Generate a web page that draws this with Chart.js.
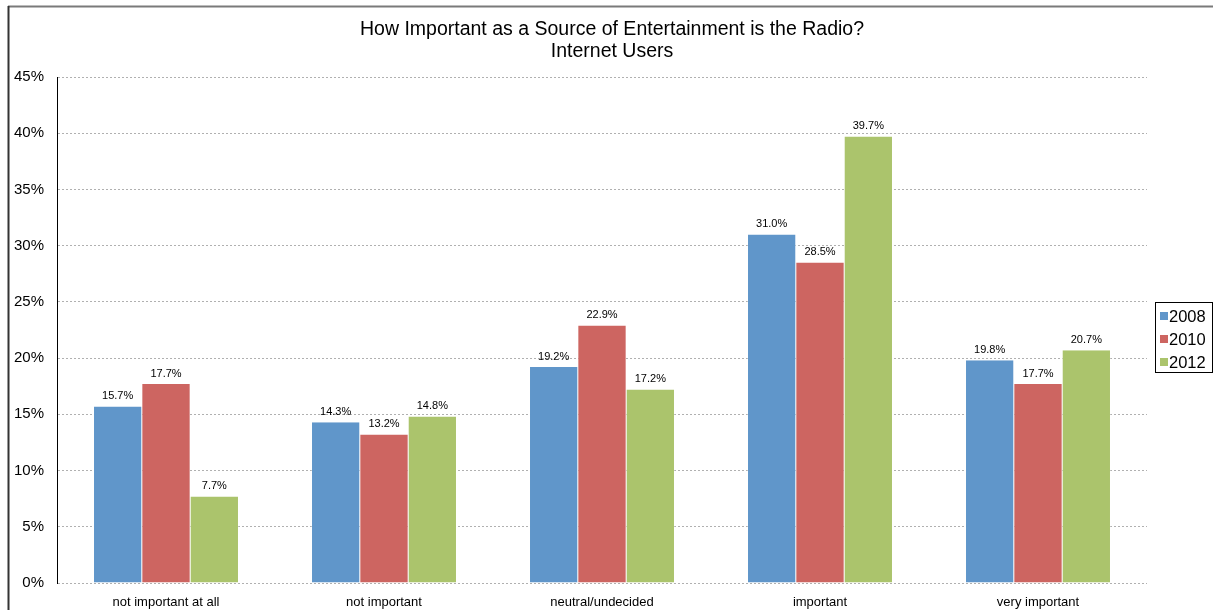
<!DOCTYPE html>
<html>
<head>
<meta charset="utf-8">
<script src="https://cdn.jsdelivr.net/npm/chart.js@4.4.1/dist/chart.umd.min.js"></script>
<style>
  html, body { margin: 0; padding: 0; background: #fff; }
  #wrap { width: 1213px; height: 610px; }
</style>
</head>
<body>
<div id="wrap"><canvas id="myChart" width="1213" height="610"></canvas></div>
<script>
// categorias y valores por año (en %)
const categorias = ["not important at all", "not important", "neutral/undecided", "important", "very important"];
const anios = ["2008", "2010", "2012"];
const datos2008 = [15.7, 14.3, 19.2, 31.0, 19.8];
const datos2010 = [17.7, 13.2, 22.9, 28.5, 17.7];
const datos2012 = [7.7, 14.8, 17.2, 39.7, 20.7];
const titulo = ["How Important as a Source of Entertainment is the Radio?", "Internet Users"];
const colores = ["#6096CA", "#CD6561", "#ABC46C"];
const fuente = "'Liberation Sans', Arial, sans-serif";

// marco de la figura (solo arriba y a la izquierda) + titulo centrado en toda la figura
const marco = {
    id: "marco",
    beforeDraw(chart){
        const c = chart.ctx;
        c.save();
        c.fillStyle = "#fff";
        c.fillRect(0, 0, chart.width, chart.height);
        c.strokeStyle = "#7a7a7a";
        c.lineWidth = 2;
        c.beginPath();
        c.moveTo(8, 6.5);
        c.lineTo(chart.width, 6.5);
        c.stroke();
        c.strokeStyle = "#333";
        c.beginPath();
        c.moveTo(8.5, 6);
        c.lineTo(8.5, chart.height);
        c.stroke();

        c.fillStyle = "#000";
        c.font = "19.5px " + fuente;
        c.textAlign = "center";
        c.textBaseline = "middle";
        titulo.forEach((t, i) => c.fillText(t, 612, 30 + i * 22));
        c.restore();
    }
};

// etiquetas de valor sobre cada barra
const etiquetas = {
    id: "etiquetas",
    afterDatasetsDraw(chart){
        const c = chart.ctx;
        c.save();
        c.font = "11px " + fuente;
        c.fillStyle = "#000";
        c.textAlign = "center";
        c.textBaseline = "bottom";
        chart.data.datasets.forEach((ds, i) => {
            chart.getDatasetMeta(i).data.forEach((bar, j) => {
                c.fillText(ds.data[j].toFixed(1) + "%", bar.x, bar.y - 5);
            });
        });
        c.restore();
    }
};

// leyenda con recuadro a la derecha
const leyenda = {
    id: "leyenda",
    afterDraw(chart){
        const c = chart.ctx;
        const x = 1155, y = 302, w = 57, h = 70;
        c.save();
        c.strokeStyle = "#000";
        c.lineWidth = 1;
        c.strokeRect(x + 0.5, y + 0.5, w, h);
        c.font = "16.5px " + fuente;
        c.textBaseline = "middle";
        chart.data.datasets.forEach((ds, i) => {
            const yy = y + 14 + i * 23;
            c.fillStyle = ds.backgroundColor;
            c.fillRect(x + 5, yy - 4, 8, 8);
            c.fillStyle = "#000";
            c.fillText(ds.label, x + 14, yy + 1);
        });
        c.restore();
    }
};

const ctx = document.getElementById("myChart");
new Chart(ctx, {
    type: "bar",
    data: {
        labels: categorias,
        datasets: [
            { label: anios[0], data: datos2008, backgroundColor: colores[0] },
            { label: anios[1], data: datos2010, backgroundColor: colores[1] },
            { label: anios[2], data: datos2012, backgroundColor: colores[2] }
        ]
    },
    options: {
        responsive: false,
        animation: false,
        devicePixelRatio: 1,
        layout: { padding: { left: 12, right: 66, top: 77, bottom: 0 } },
        datasets: {
            bar: {
                categoryPercentage: 0.665,
                barPercentage: 1,
                borderColor: "#ffffff",
                borderWidth: { left: 0.5, right: 0.5, top: 0, bottom: 0 }
            }
        },
        plugins: {
            legend: { display: false },
            tooltip: { enabled: false },
            title: { display: false }
        },
        scales: {
            x: {
                grid: { display: false },
                border: { display: false },
                ticks: {
                    color: "#000",
                    font: { family: fuente, size: 13 },
                    padding: 4,
                    maxRotation: 0
                },
                afterFit(scale){ scale.height = 27; }
            },
            y: {
                min: 0,
                max: 45,
                ticks: {
                    stepSize: 5,
                    color: "#000",
                    font: { family: fuente, size: 15 },
                    padding: 13,
                    callback: v => v + "%"
                },
                grid: { color: "#b0b0b0", drawTicks: false, lineWidth: 1 },
                border: { display: true, color: "#000", width: 1, dash: [2, 2] },
                afterFit(scale){ scale.width = 45; }
            }
        }
    },
    plugins: [marco, etiquetas, leyenda]
});
</script>
</body>
</html>
